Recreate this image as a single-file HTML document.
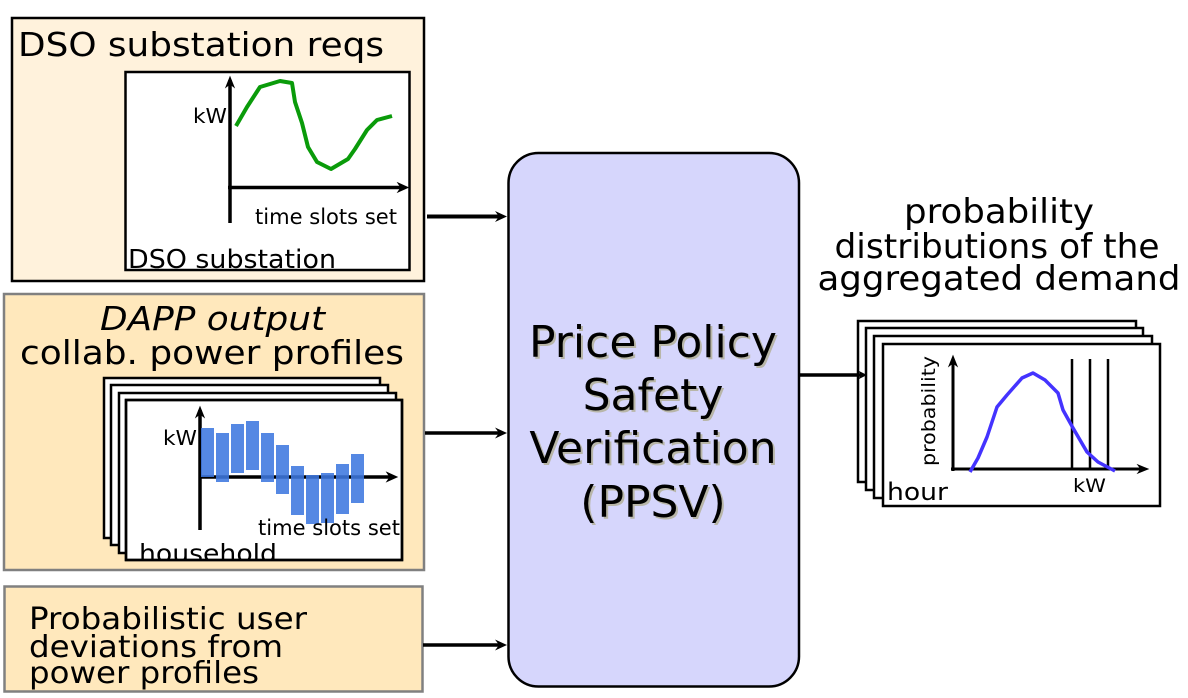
<!DOCTYPE html>
<html><head><meta charset="utf-8"><style>
html,body{margin:0;padding:0;background:#fff;}
svg{display:block;}
text{font-family:"DejaVu Sans","Liberation Sans",sans-serif;fill:#000;}
</style></head><body>
<svg width="1188" height="698" viewBox="0 0 1188 698" xmlns="http://www.w3.org/2000/svg">
<defs>
<clipPath id="hh"><rect x="127" y="401" width="274" height="158"/></clipPath>
</defs>

<!-- Box 1 DSO -->
<rect x="12" y="18" width="412" height="263" fill="#fff2dc" stroke="#000" stroke-width="2.5"/>
<text x="18" y="56" font-size="33" textLength="366" lengthAdjust="spacingAndGlyphs">DSO substation reqs</text>
<rect x="125.5" y="72" width="284" height="198" fill="#fff" stroke="#000" stroke-width="2.5"/>
<line x1="230" y1="80" x2="230" y2="223" stroke="#000" stroke-width="3.5"/>
<path d="M226,87 L230,77 L234,87 L230,84 Z" fill="#000" stroke="#000" stroke-width="1"/>
<line x1="228" y1="187.5" x2="404" y2="187.5" stroke="#000" stroke-width="3.5"/>
<path d="M398,183 L408,187.5 L398,192 L401,187.5 Z" fill="#000" stroke="#000" stroke-width="1"/>
<polyline points="236,126 247,107 260,87 280,81 292,83 295,102 302,123 308,147 317,162 331,169 348,159 355,149 367,130 377,120 392,116" fill="none" stroke="#0a9b0a" stroke-width="4" stroke-linejoin="round"/>
<text x="193" y="123" font-size="20" textLength="34" lengthAdjust="spacingAndGlyphs">kW</text>
<text x="255" y="224" font-size="21" textLength="142" lengthAdjust="spacingAndGlyphs">time slots set</text>
<text x="128" y="268" font-size="26" textLength="208" lengthAdjust="spacingAndGlyphs">DSO substation</text>

<!-- Box 2 DAPP -->
<rect x="4" y="294" width="420" height="276" fill="#ffe8bc" stroke="#808080" stroke-width="2.5"/>
<text x="100" y="330" font-size="33" font-style="italic" textLength="225" lengthAdjust="spacingAndGlyphs">DAPP output</text>
<text x="20" y="364" font-size="33" textLength="384" lengthAdjust="spacingAndGlyphs">collab. power profiles</text>
<rect x="104" y="378" width="276" height="160" fill="#fff" stroke="#000" stroke-width="2.5"/>
<rect x="111" y="385" width="277" height="160" fill="#fff" stroke="#000" stroke-width="2.5"/>
<rect x="119" y="393" width="277" height="160" fill="#fff" stroke="#000" stroke-width="2.5"/>
<rect x="126" y="400" width="276" height="160" fill="#fff" stroke="#000" stroke-width="2.5"/>
<line x1="200" y1="410" x2="200" y2="530" stroke="#000" stroke-width="3.5"/>
<path d="M196,417 L200,407 L204,417 L200,414 Z" fill="#000" stroke="#000" stroke-width="1"/>
<line x1="200" y1="477" x2="393" y2="477" stroke="#000" stroke-width="3.5"/>
<path d="M387,472.5 L397,477 L387,481.5 L390,477 Z" fill="#000" stroke="#000" stroke-width="1"/>
<g fill="#3e78df" fill-opacity="0.88">
<rect x="201" y="428" width="13" height="49"/>
<rect x="216" y="433" width="13" height="49"/>
<rect x="231" y="424" width="13" height="49"/>
<rect x="246" y="421" width="13" height="49"/>
<rect x="261" y="433" width="13" height="49"/>
<rect x="276" y="445" width="13" height="49"/>
<rect x="291" y="466" width="13" height="49"/>
<rect x="306" y="475" width="13" height="49"/>
<rect x="321" y="473" width="13" height="50"/>
<rect x="336" y="464" width="13" height="50"/>
<rect x="351" y="454" width="13" height="49"/>
</g>
<text x="163" y="445" font-size="20" textLength="34" lengthAdjust="spacingAndGlyphs">kW</text>
<text x="258" y="535" font-size="21" textLength="142" lengthAdjust="spacingAndGlyphs">time slots set</text>
<g clip-path="url(#hh)"><text x="139" y="562" font-size="25" textLength="138" lengthAdjust="spacingAndGlyphs">household</text></g>
<rect x="126" y="400" width="276" height="160" fill="none" stroke="#000" stroke-width="2.5"/>

<!-- Box 3 -->
<rect x="4.5" y="586.5" width="418" height="105" fill="#ffe8bc" stroke="#808080" stroke-width="2.5"/>
<text x="29" y="629" font-size="30" textLength="278" lengthAdjust="spacingAndGlyphs">Probabilistic user</text>
<text x="29" y="657" font-size="30" textLength="254" lengthAdjust="spacingAndGlyphs">deviations from</text>
<text x="29" y="683" font-size="30" textLength="230" lengthAdjust="spacingAndGlyphs">power profiles</text>

<!-- Arrows to PPSV -->
<line x1="427" y1="216.5" x2="502" y2="216.5" stroke="#000" stroke-width="4"/>
<path d="M495,211 L507,216.5 L495,222 L499,216.5 Z" fill="#000"/>
<line x1="425" y1="433" x2="502" y2="433" stroke="#000" stroke-width="3.5"/>
<path d="M495,427.5 L507,433 L495,438.5 L499,433 Z" fill="#000"/>
<line x1="423" y1="645" x2="502" y2="645" stroke="#000" stroke-width="3.5"/>
<path d="M495,639.5 L507,645 L495,650.5 L499,645 Z" fill="#000"/>

<!-- PPSV -->
<rect x="508.5" y="153" width="290.5" height="533.5" rx="30" ry="30" fill="#d6d6fc" stroke="#000" stroke-width="2.5"/>
<g font-size="44" text-anchor="middle" fill="#b5b3a6">
<text x="655" y="359" style="fill:#b8b6a8">Price Policy</text>
<text x="655" y="412" style="fill:#b8b6a8">Safety</text>
<text x="655" y="465" style="fill:#b8b6a8">Verification</text>
<text x="655" y="519" style="fill:#b8b6a8">(PPSV)</text>
</g>
<g font-size="44" text-anchor="middle">
<text x="653" y="357">Price Policy</text>
<text x="653" y="410">Safety</text>
<text x="653" y="463">Verification</text>
<text x="653" y="517">(PPSV)</text>
</g>

<!-- Right output -->
<text x="999" y="223" font-size="34" text-anchor="middle" textLength="190" lengthAdjust="spacingAndGlyphs">probability</text>
<text x="997" y="258" font-size="34" text-anchor="middle" textLength="325" lengthAdjust="spacingAndGlyphs">distributions of the</text>
<text x="999" y="290" font-size="34" text-anchor="middle" textLength="363" lengthAdjust="spacingAndGlyphs">aggregated demand</text>

<rect x="858" y="321" width="278" height="161" fill="#fff" stroke="#000" stroke-width="2.5"/>
<rect x="866" y="328" width="277" height="162" fill="#fff" stroke="#000" stroke-width="2.5"/>
<rect x="874" y="336" width="278" height="162" fill="#fff" stroke="#000" stroke-width="2.5"/>
<rect x="883" y="344" width="277" height="162" fill="#fff" stroke="#000" stroke-width="2.5"/>

<line x1="798" y1="375" x2="862" y2="375" stroke="#000" stroke-width="3.5"/>
<path d="M858,370.5 L867,375 L858,379.5 L861,375 Z" fill="#000"/>

<line x1="953" y1="360" x2="953" y2="471" stroke="#000" stroke-width="3"/>
<path d="M949,366 L953,356 L957,366 L953,363 Z" fill="#000" stroke="#000" stroke-width="1"/>
<line x1="951" y1="469" x2="1144" y2="469" stroke="#000" stroke-width="3"/>
<path d="M1138,465 L1148,469 L1138,473 L1141,469 Z" fill="#000" stroke="#000" stroke-width="1"/>
<line x1="1072" y1="359" x2="1072" y2="469" stroke="#000" stroke-width="2.5"/>
<line x1="1090" y1="359" x2="1090" y2="469" stroke="#000" stroke-width="2.5"/>
<line x1="1108" y1="359" x2="1108" y2="469" stroke="#000" stroke-width="2.5"/>
<polyline points="970,472 978,458 987,437 997,407 1007,395 1022,378 1033,373 1045,380 1058,393 1063,410 1073,428 1087,452 1098,462 1115,471" fill="none" stroke="#4433ff" stroke-width="3.5" stroke-linejoin="round"/>
<text transform="translate(935,411) rotate(-90)" font-size="19" text-anchor="middle" textLength="110" lengthAdjust="spacingAndGlyphs">probability</text>
<text x="1073" y="492" font-size="19" textLength="33" lengthAdjust="spacingAndGlyphs">kW</text>
<text x="887" y="500" font-size="24" textLength="61" lengthAdjust="spacingAndGlyphs">hour</text>
</svg>
</body></html>
